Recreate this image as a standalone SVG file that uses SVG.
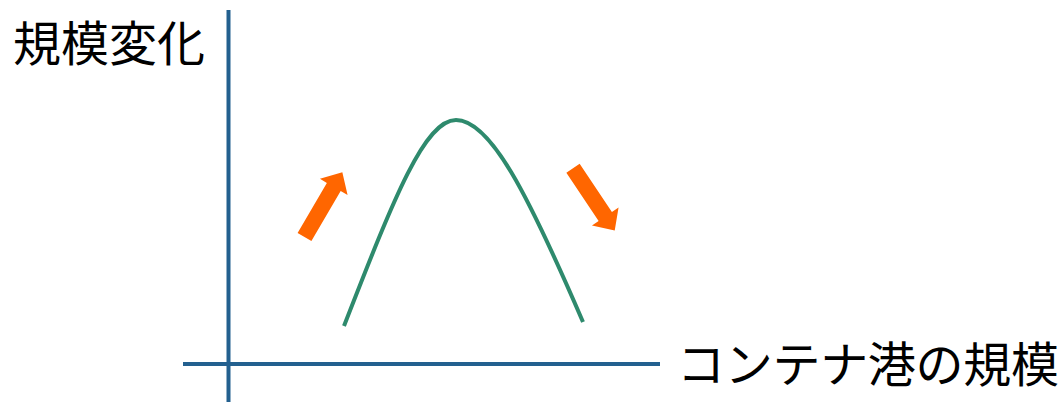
<svg xmlns="http://www.w3.org/2000/svg" width="1063" height="402" viewBox="0 0 1063 402">
<style>
.axis{stroke:#23608F;stroke-width:4;fill:none}
.curve{stroke:#2E8A6D;stroke-width:4;fill:none}
.arrow{fill:#FF6600}
.label{font-family:"Noto Sans CJK JP","Noto Sans CJK SC",sans-serif;font-size:48px;fill:#000}
</style>
<defs>
<polygon id="blk" points="0,-8 58,-8 58,-16 75,0 58,16 58,8 0,8"/>
</defs>
<g id="connectors">
<line class="axis" x1="228.5" y1="10" x2="228.5" y2="402"/>
<line class="axis" x1="183" y1="364" x2="660" y2="364"/>
</g>
<g id="curve">
<path class="curve" d="M344,326 C395,195 425,120 456,120 C490,120 527,192 583,322"/>
</g>
<g id="arrow-up">
<use href="#blk" class="arrow" transform="translate(304.5,237) rotate(-59.7)"/>
</g>
<g id="arrow-down">
<use href="#blk" class="arrow" transform="translate(573,168.3) rotate(56.2)"/>
</g>
<g id="label-y">
<text class="label" x="13" y="61">規模変化</text>
</g>
<g id="label-x">
<text class="label" x="677" y="382" textLength="382">コンテナ港の規模</text>
</g>
</svg>
